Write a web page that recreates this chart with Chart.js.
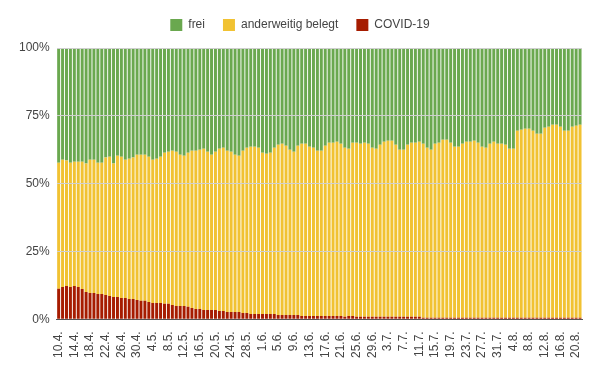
<!DOCTYPE html>
<html lang="de">
<head>
    <meta charset="UTF-8">
    <title>Intensivbetten – Belegung</title>
    <script src="https://cdn.jsdelivr.net/npm/chart.js"></script>
    <style>
        body {
            margin: 0;
            padding: 0;
            background: #ffffff;
        }
        canvas {
            display: block;
        }
    </style>
</head>
<body>
    <canvas id="chart" width="600" height="371"></canvas>

    <script>
        // Tage 10.4. bis 21.8.
        const tage = [
            '10.4.','11.4.','12.4.','13.4.','14.4.','15.4.','16.4.','17.4.','18.4.','19.4.',
            '20.4.','21.4.','22.4.','23.4.','24.4.','25.4.','26.4.','27.4.','28.4.','29.4.','30.4.',
            '1.5.','2.5.','3.5.','4.5.','5.5.','6.5.','7.5.','8.5.','9.5.','10.5.',
            '11.5.','12.5.','13.5.','14.5.','15.5.','16.5.','17.5.','18.5.','19.5.','20.5.',
            '21.5.','22.5.','23.5.','24.5.','25.5.','26.5.','27.5.','28.5.','29.5.','30.5.','31.5.',
            '1.6.','2.6.','3.6.','4.6.','5.6.','6.6.','7.6.','8.6.','9.6.','10.6.',
            '11.6.','12.6.','13.6.','14.6.','15.6.','16.6.','17.6.','18.6.','19.6.','20.6.',
            '21.6.','22.6.','23.6.','24.6.','25.6.','26.6.','27.6.','28.6.','29.6.','30.6.',
            '1.7.','2.7.','3.7.','4.7.','5.7.','6.7.','7.7.','8.7.','9.7.','10.7.',
            '11.7.','12.7.','13.7.','14.7.','15.7.','16.7.','17.7.','18.7.','19.7.','20.7.',
            '21.7.','22.7.','23.7.','24.7.','25.7.','26.7.','27.7.','28.7.','29.7.','30.7.','31.7.',
            '1.8.','2.8.','3.8.','4.8.','5.8.','6.8.','7.8.','8.8.','9.8.','10.8.',
            '11.8.','12.8.','13.8.','14.8.','15.8.','16.8.','17.8.','18.8.','19.8.','20.8.','21.8.'
        ];

        // Anteil COVID-19-Patienten an allen Betten (%)
        const covid = [
            11.3, 11.9, 12.3, 11.9, 12.3, 11.9, 11.2, 10.1, 9.7, 9.7,
            9.3, 9.3, 9.0, 8.6, 8.2, 8.2, 7.9, 7.9, 7.5, 7.5,
            7.1, 6.8, 6.8, 6.4, 6.0, 6.0, 6.0, 5.7, 5.7, 5.3,
            4.9, 4.9, 4.9, 4.6, 4.2, 3.8, 3.8, 3.4, 3.4, 3.4,
            3.4, 3.1, 3.1, 2.7, 2.7, 2.7, 2.7, 2.3, 2.3, 2.0,
            2.0, 2.0, 2.0, 2.0, 2.0, 2.0, 1.6, 1.6, 1.6, 1.6,
            1.6, 1.6, 1.2, 1.2, 1.2, 1.2, 1.2, 1.2, 1.2, 1.2,
            1.2, 1.2, 1.2, 0.9, 1.2, 1.2, 0.9, 0.9, 0.9, 0.9,
            0.9, 0.9, 0.9, 0.9, 0.9, 0.9, 0.9, 0.9, 0.9, 0.9,
            0.9, 0.9, 0.9, 0.6, 0.6, 0.6, 0.6, 0.6, 0.6, 0.6,
            0.6, 0.6, 0.6, 0.6, 0.6, 0.6, 0.6, 0.6, 0.6, 0.6,
            0.6, 0.6, 0.6, 0.6, 0.6, 0.6, 0.6, 0.6, 0.6, 0.6,
            0.6, 0.6, 0.6, 0.6, 0.6, 0.6, 0.6, 0.6, 0.6, 0.6,
            0.6, 0.6, 0.6, 0.6
        ];

        // belegte Betten insgesamt (COVID-19 + anderweitig), in %
        const belegt = [
            57.7, 58.8, 58.5, 57.7, 58.1, 58.1, 58.1, 57.4, 58.8, 58.8,
            57.7, 57.7, 59.6, 59.9, 57.4, 60.3, 59.9, 58.8, 59.2, 59.6,
            60.7, 60.7, 60.7, 59.9, 58.8, 59.2, 59.9, 61.4, 61.8, 62.1,
            61.8, 60.7, 60.3, 61.4, 62.1, 62.1, 62.5, 62.9, 61.8, 60.7,
            61.8, 62.9, 63.2, 62.1, 61.8, 60.7, 60.3, 62.1, 63.2, 63.6,
            63.6, 63.2, 61.4, 61.0, 61.4, 63.2, 64.3, 64.7, 64.0, 62.5,
            61.8, 64.0, 64.7, 64.7, 63.6, 63.2, 62.1,
            62.1, 64.0, 65.1, 65.1, 65.4, 64.7, 63.2, 62.9, 65.1, 65.1,
            64.7, 65.1, 64.7, 63.2, 62.9, 64.3, 65.4, 65.8, 65.8, 64.3,
            62.5, 62.5, 64.3, 65.1, 65.1, 65.4, 64.7, 63.2, 62.5, 64.7,
            65.1, 66.2, 66.2, 65.1, 63.6, 63.6, 64.7, 65.4, 65.4, 65.8,
            65.1, 63.6, 63.2, 64.7, 65.4, 64.7, 64.7, 64.3, 62.9, 62.9,
            69.5, 69.9, 70.2, 70.2, 69.5, 68.4, 68.4, 70.6, 71.0, 71.7,
            71.7, 71.0, 69.5, 69.5, 71.0, 71.3, 71.7
        ];

        const anderweitig = belegt.map((b, i) => +(b - covid[i]).toFixed(1));
        const frei = belegt.map(b => +(100 - b).toFixed(1));

        const yTicks = [0, 25, 50, 75, 100];

        // Legende: etwas Abstand nach unten, mittig über dem ganzen Bild
        const legendGap = {
            id: 'legendGap',
            beforeInit(chart) {
                const fitOrig = chart.legend.fit;
                chart.legend.fit = function () {
                    fitOrig.bind(chart.legend)();
                    this.height += 7;
                };
            },
            afterLayout(chart) {
                chart.legend.left += 3;
                chart.legend.right += 3;
            }
        };

        Chart.defaults.font.family = "'Liberation Sans', Arial, sans-serif";
        Chart.defaults.font.size = 12;
        Chart.defaults.color = '#444';

        new Chart(document.getElementById('chart').getContext('2d'), {
            type: 'bar',
            data: {
                labels: tage,
                datasets: [
                    { label: 'COVID-19', data: covid, backgroundColor: '#a61c00' },
                    { label: 'anderweitig belegt', data: anderweitig, backgroundColor: '#f1c232' },
                    { label: 'frei', data: frei, backgroundColor: '#6aa84f' }
                ]
            },
            options: {
                responsive: false,
                animation: false,
                datasets: {
                    bar: { barPercentage: 0.76, categoryPercentage: 1 }
                },
                layout: { padding: { left: 12, right: 18, top: 1, bottom: 9 } },
                plugins: {
                    legend: {
                        reverse: true,
                        labels: { boxWidth: 12, boxHeight: 12, padding: 18 }
                    },
                    tooltip: { enabled: false }
                },
                scales: {
                    x: {
                        stacked: true,
                        grid: { display: false },
                        border: { color: '#555' },
                        ticks: {
                            autoSkip: false,
                            minRotation: 90,
                            maxRotation: 90,
                            padding: 4,
                            callback: function (v, i) {
                                return i % 4 === 0 ? tage[i] : null;
                            }
                        }
                    },
                    y: {
                        stacked: true,
                        min: 0,
                        max: 100,
                        afterBuildTicks: axis => { axis.ticks = yTicks.map(v => ({ value: v })); },
                        grid: {
                            color: ctx => ctx.tick && ctx.tick.value === 0 ? 'rgba(0,0,0,0)' : '#cfcfcf',
                            z: 1,
                            drawTicks: false
                        },
                        border: { display: false },
                        ticks: {
                            padding: 7,
                            callback: v => v + '%'
                        }
                    }
                }
            },
            plugins: [legendGap]
        });
    </script>
</body>
</html>
